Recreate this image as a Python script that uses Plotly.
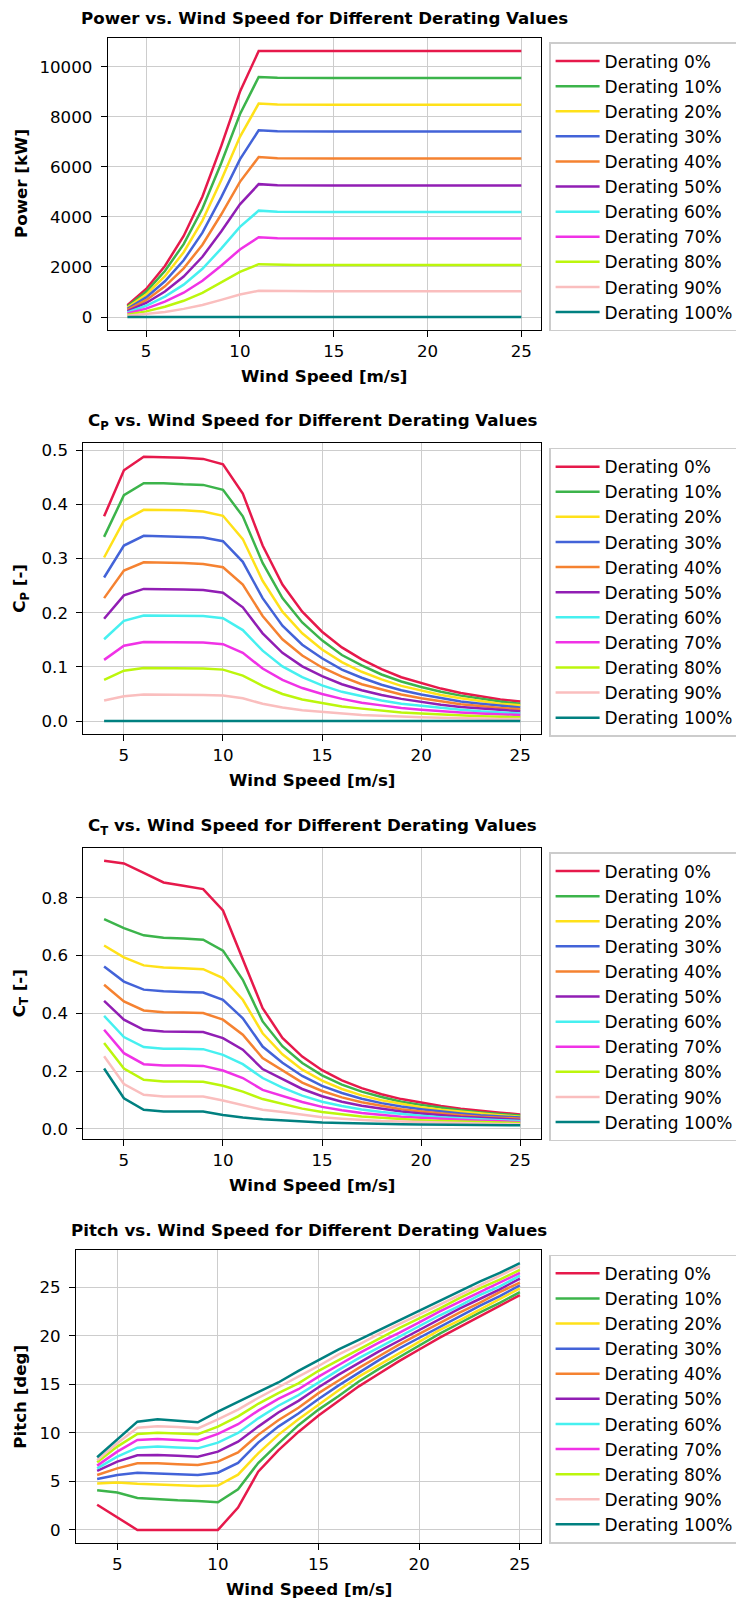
import plotly.graph_objects as go

# ---------------- data ----------------
wind_speed = [4, 5, 6, 7, 8, 9, 10, 11, 12, 13, 14, 15, 16, 17, 18, 19, 20, 21, 22, 23, 24, 25]
derating_labels = ["Derating 0%", "Derating 10%", "Derating 20%", "Derating 30%", "Derating 40%",
                   "Derating 50%", "Derating 60%", "Derating 70%", "Derating 80%", "Derating 90%",
                   "Derating 100%"]
colors = ["#e6194b", "#3cb44b", "#ffe119", "#4363d8", "#f58231", "#911eb4",
          "#46f0f0", "#f032e6", "#bcf60c", "#fabebe", "#008080"]

power_d0 = [468, 1120, 2040, 3236, 4815, 6827, 9000, 10630, 10630, 10630, 10630, 10630, 10630, 10630, 10630, 10630, 10630, 10630, 10630, 10630, 10630, 10630]
power_d10 = [421, 1008, 1836, 2912, 4334, 6144, 8100, 9590, 9560, 9550, 9550, 9550, 9550, 9550, 9550, 9550, 9550, 9550, 9550, 9550, 9550, 9550]
power_d20 = [374, 896, 1632, 2589, 3852, 5462, 7200, 8530, 8490, 8480, 8480, 8480, 8480, 8480, 8480, 8480, 8480, 8480, 8480, 8480, 8480, 8480]
power_d30 = [328, 784, 1428, 2265, 3371, 4779, 6300, 7460, 7420, 7410, 7410, 7410, 7410, 7410, 7410, 7410, 7410, 7410, 7410, 7410, 7410, 7410]
power_d40 = [281, 672, 1224, 1942, 2889, 4096, 5400, 6390, 6340, 6330, 6330, 6330, 6330, 6330, 6330, 6330, 6330, 6330, 6330, 6330, 6330, 6330]
power_d50 = [234, 560, 1020, 1618, 2408, 3414, 4500, 5310, 5270, 5260, 5260, 5260, 5260, 5260, 5260, 5260, 5260, 5260, 5260, 5260, 5260, 5260]
power_d60 = [187, 448, 816, 1294, 1926, 2731, 3600, 4250, 4210, 4200, 4200, 4200, 4200, 4200, 4200, 4200, 4200, 4200, 4200, 4200, 4200, 4200]
power_d70 = [140, 336, 612, 971, 1445, 2048, 2700, 3190, 3150, 3140, 3140, 3140, 3140, 3140, 3140, 3140, 3140, 3140, 3140, 3140, 3140, 3140]
power_d80 = [94, 224, 408, 647, 963, 1365, 1800, 2110, 2085, 2080, 2080, 2080, 2080, 2080, 2080, 2080, 2080, 2080, 2080, 2080, 2080, 2080]
power_d90 = [47, 112, 204, 324, 482, 683, 900, 1050, 1035, 1030, 1030, 1030, 1030, 1030, 1030, 1030, 1030, 1030, 1030, 1030, 1030, 1030]
power_d100 = [0, 0, 0, 0, 0, 0, 0, 0, 0, 0, 0, 0, 0, 0, 0, 0, 0, 0, 0, 0, 0, 0]

cp_d0 = [0.378, 0.463, 0.488, 0.4875, 0.486, 0.484, 0.474, 0.420, 0.324, 0.252, 0.202, 0.165, 0.136, 0.114, 0.096, 0.081, 0.070, 0.060, 0.052, 0.046, 0.040, 0.036]
cp_d10 = [0.340, 0.417, 0.439, 0.439, 0.437, 0.436, 0.427, 0.378, 0.292, 0.227, 0.182, 0.149, 0.122, 0.103, 0.086, 0.073, 0.063, 0.054, 0.047, 0.041, 0.036, 0.032]
cp_d20 = [0.302, 0.370, 0.390, 0.390, 0.389, 0.387, 0.379, 0.336, 0.259, 0.202, 0.162, 0.132, 0.109, 0.091, 0.077, 0.065, 0.056, 0.048, 0.042, 0.037, 0.032, 0.029]
cp_d30 = [0.265, 0.324, 0.342, 0.341, 0.340, 0.339, 0.332, 0.294, 0.227, 0.176, 0.141, 0.116, 0.095, 0.080, 0.067, 0.057, 0.049, 0.042, 0.036, 0.032, 0.028, 0.025]
cp_d40 = [0.227, 0.278, 0.293, 0.293, 0.292, 0.290, 0.284, 0.252, 0.194, 0.151, 0.121, 0.099, 0.082, 0.068, 0.058, 0.049, 0.042, 0.036, 0.031, 0.028, 0.024, 0.022]
cp_d50 = [0.189, 0.232, 0.244, 0.244, 0.243, 0.242, 0.237, 0.210, 0.162, 0.126, 0.101, 0.083, 0.068, 0.057, 0.048, 0.041, 0.035, 0.030, 0.026, 0.023, 0.020, 0.018]
cp_d60 = [0.151, 0.185, 0.195, 0.195, 0.194, 0.194, 0.190, 0.168, 0.130, 0.101, 0.081, 0.066, 0.054, 0.046, 0.038, 0.032, 0.028, 0.024, 0.021, 0.018, 0.016, 0.014]
cp_d70 = [0.113, 0.139, 0.146, 0.146, 0.146, 0.145, 0.142, 0.126, 0.097, 0.076, 0.061, 0.050, 0.041, 0.034, 0.029, 0.024, 0.021, 0.018, 0.016, 0.014, 0.012, 0.011]
cp_d80 = [0.076, 0.093, 0.098, 0.098, 0.097, 0.097, 0.095, 0.084, 0.065, 0.050, 0.040, 0.033, 0.027, 0.023, 0.019, 0.016, 0.014, 0.012, 0.010, 0.009, 0.008, 0.007]
cp_d90 = [0.038, 0.046, 0.049, 0.049, 0.049, 0.048, 0.047, 0.042, 0.032, 0.025, 0.020, 0.017, 0.014, 0.011, 0.010, 0.008, 0.007, 0.006, 0.005, 0.005, 0.004, 0.004]
cp_d100 = [0, 0, 0, 0, 0, 0, 0, 0, 0, 0, 0, 0, 0, 0, 0, 0, 0, 0, 0, 0, 0, 0]

ct_d0 = [0.928, 0.919, 0.886, 0.853, 0.842, 0.830, 0.756, 0.585, 0.418, 0.315, 0.250, 0.203, 0.168, 0.141, 0.120, 0.103, 0.090, 0.079, 0.070, 0.062, 0.056, 0.050]
ct_d10 = [0.726, 0.695, 0.670, 0.662, 0.659, 0.655, 0.617, 0.516, 0.372, 0.286, 0.228, 0.185, 0.153, 0.129, 0.110, 0.094, 0.083, 0.073, 0.064, 0.057, 0.052, 0.046]
ct_d20 = [0.635, 0.594, 0.566, 0.559, 0.556, 0.553, 0.522, 0.447, 0.331, 0.258, 0.205, 0.167, 0.138, 0.116, 0.099, 0.086, 0.075, 0.066, 0.059, 0.052, 0.047, 0.042]
ct_d30 = [0.562, 0.510, 0.482, 0.476, 0.474, 0.472, 0.447, 0.383, 0.285, 0.229, 0.183, 0.149, 0.124, 0.104, 0.089, 0.077, 0.068, 0.060, 0.053, 0.047, 0.043, 0.039]
ct_d40 = [0.499, 0.441, 0.410, 0.404, 0.403, 0.401, 0.378, 0.326, 0.245, 0.201, 0.160, 0.131, 0.109, 0.092, 0.079, 0.068, 0.060, 0.053, 0.047, 0.042, 0.039, 0.035]
ct_d50 = [0.443, 0.378, 0.343, 0.337, 0.336, 0.335, 0.314, 0.274, 0.207, 0.172, 0.138, 0.113, 0.094, 0.080, 0.069, 0.060, 0.053, 0.047, 0.042, 0.038, 0.034, 0.031]
ct_d60 = [0.391, 0.318, 0.283, 0.277, 0.277, 0.276, 0.256, 0.224, 0.176, 0.143, 0.115, 0.094, 0.079, 0.067, 0.058, 0.051, 0.045, 0.040, 0.036, 0.033, 0.030, 0.027]
ct_d70 = [0.343, 0.262, 0.224, 0.219, 0.219, 0.218, 0.202, 0.176, 0.135, 0.115, 0.093, 0.076, 0.064, 0.055, 0.048, 0.042, 0.038, 0.034, 0.030, 0.028, 0.026, 0.023]
ct_d80 = [0.297, 0.209, 0.170, 0.164, 0.164, 0.163, 0.149, 0.129, 0.103, 0.086, 0.070, 0.058, 0.050, 0.043, 0.038, 0.033, 0.030, 0.027, 0.025, 0.023, 0.021, 0.020]
ct_d90 = [0.251, 0.155, 0.118, 0.112, 0.112, 0.112, 0.098, 0.083, 0.066, 0.058, 0.048, 0.040, 0.035, 0.030, 0.027, 0.025, 0.023, 0.021, 0.019, 0.018, 0.017, 0.016]
ct_d100 = [0.209, 0.106, 0.066, 0.060, 0.060, 0.060, 0.048, 0.039, 0.033, 0.029, 0.025, 0.022, 0.020, 0.018, 0.017, 0.016, 0.015, 0.014, 0.0135, 0.013, 0.0125, 0.012]

pitch_d0 = [2.6, 1.3, 0, 0, 0, 0, 0, 2.3, 6.0, 8.2, 10.1, 11.8, 13.3, 14.8, 16.1, 17.4, 18.6, 19.8, 20.9, 22.0, 23.1, 24.2]
pitch_d10 = [4.1, 3.85, 3.3, 3.15, 3.05, 2.98, 2.85, 4.2, 6.9, 8.9, 10.8, 12.4, 13.8, 15.3, 16.6, 17.8, 19.0, 20.2, 21.3, 22.4, 23.4, 24.5]
pitch_d20 = [4.8, 4.9, 4.75, 4.65, 4.58, 4.52, 4.57, 5.7, 7.9, 9.8, 11.4, 12.9, 14.4, 15.8, 17.0, 18.2, 19.4, 20.6, 21.6, 22.7, 23.8, 24.9]
pitch_d30 = [5.25, 5.67, 5.9, 5.84, 5.75, 5.67, 5.9, 6.9, 9.0, 10.65, 12.0, 13.5, 14.9, 16.2, 17.5, 18.7, 19.8, 20.9, 22.0, 23.1, 24.1, 25.2]
pitch_d40 = [5.67, 6.35, 6.87, 6.87, 6.78, 6.7, 7.04, 8.0, 9.8, 11.3, 12.6, 14.1, 15.4, 16.7, 17.9, 19.1, 20.2, 21.3, 22.4, 23.4, 24.5, 25.5]
pitch_d50 = [6.08, 7.04, 7.69, 7.73, 7.64, 7.55, 8.07, 9.1, 10.65, 12.1, 13.3, 14.7, 16.0, 17.2, 18.4, 19.5, 20.6, 21.7, 22.8, 23.8, 24.8, 25.9]
pitch_d60 = [6.35, 7.55, 8.48, 8.59, 8.5, 8.41, 9.0, 10.0, 11.5, 12.8, 13.9, 15.2, 16.5, 17.7, 18.8, 19.9, 21.0, 22.1, 23.1, 24.2, 25.1, 26.2]
pitch_d70 = [6.63, 8.07, 9.27, 9.37, 9.27, 9.17, 9.9, 10.9, 12.3, 13.5, 14.5, 15.8, 17.0, 18.2, 19.3, 20.3, 21.4, 22.5, 23.5, 24.5, 25.5, 26.5]
pitch_d80 = [6.97, 8.59, 9.9, 10.03, 9.95, 9.86, 10.65, 11.7, 13.0, 14.1, 15.1, 16.4, 17.5, 18.6, 19.7, 20.8, 21.8, 22.8, 23.9, 24.9, 25.8, 26.8]
pitch_d90 = [7.2, 8.93, 10.54, 10.7, 10.6, 10.47, 11.4, 12.4, 13.6, 14.7, 15.8, 16.9, 18.1, 19.1, 20.2, 21.2, 22.2, 23.2, 24.2, 25.2, 26.2, 27.2]
pitch_d100 = [7.49, 9.3, 11.16, 11.4, 11.26, 11.1, 12.2, 13.2, 14.15, 15.2, 16.4, 17.5, 18.6, 19.6, 20.6, 21.6, 22.6, 23.6, 24.6, 25.6, 26.5, 27.5]

power_series = [power_d0, power_d10, power_d20, power_d30, power_d40, power_d50, power_d60, power_d70, power_d80, power_d90, power_d100]
cp_series = [cp_d0, cp_d10, cp_d20, cp_d30, cp_d40, cp_d50, cp_d60, cp_d70, cp_d80, cp_d90, cp_d100]
ct_series = [ct_d0, ct_d10, ct_d20, ct_d30, ct_d40, ct_d50, ct_d60, ct_d70, ct_d80, ct_d90, ct_d100]
pitch_series = [pitch_d0, pitch_d10, pitch_d20, pitch_d30, pitch_d40, pitch_d50, pitch_d60, pitch_d70, pitch_d80, pitch_d90, pitch_d100]

x_ticks = [5, 10, 15, 20, 25]

# ---------------- layout constants (pixels) ----------------
W, H = 736, 1603
FONT = "DejaVu Sans"
FS = 16.67

panels = [
    dict(series=power_series, left=107.7, top=37.7, bottom=330.3, yrange=[-531.5, 11161.5],
         yticks=[0, 2000, 4000, 6000, 8000, 10000], fmt="d",
         title="<b>Power vs. Wind Speed for Different Derating Values</b>",
         ylabel="<b>Power [kW]</b>"),
    dict(series=cp_series, left=83.3, top=443.3, bottom=734.3, yrange=[-0.0244, 0.5128],
         yticks=[0.0, 0.1, 0.2, 0.3, 0.4, 0.5], fmt=".1f",
         title="<b>C<sub>P</sub> vs. Wind Speed for Different Derating Values</b>",
         ylabel="<b>C<sub>P</sub> [-]</b>"),
    dict(series=ct_series, left=83.3, top=847.7, bottom=1139.0, yrange=[-0.0352, 0.9735],
         yticks=[0.0, 0.2, 0.4, 0.6, 0.8], fmt=".1f",
         title="<b>C<sub>T</sub> vs. Wind Speed for Different Derating Values</b>",
         ylabel="<b>C<sub>T</sub> [-]</b>"),
    dict(series=pitch_series, left=76.0, top=1250.0, bottom=1543.3, yrange=[-1.375, 28.85],
         yticks=[0, 5, 10, 15, 20, 25], fmt="d",
         title="<b>Pitch vs. Wind Speed for Different Derating Values</b>",
         ylabel="<b>Pitch [deg]</b>"),
]
RIGHT = 541.0

fig = go.Figure()
annotations = []
layout = dict(width=W, height=H, margin=dict(l=0, r=0, t=0, b=0, autoexpand=False),
              paper_bgcolor="white", plot_bgcolor="white",
              font=dict(family=FONT, size=FS, color="black"), showlegend=True)

for i, p in enumerate(panels):
    n = "" if i == 0 else str(i + 1)
    xa, ya = "x" + n, "y" + n
    lg = "legend" + n
    for lab, col, ys in zip(derating_labels, colors, p["series"]):
        fig.add_trace(go.Scatter(x=wind_speed, y=ys, mode="lines", name=lab,
                                 line=dict(color=col, width=2.5),
                                 xaxis=xa, yaxis=ya, legend=lg))
    xd = [p["left"] / W, RIGHT / W]
    yd = [1 - p["bottom"] / H, 1 - p["top"] / H]
    common = dict(ticks="outside", ticklen=5.8, tickwidth=1.33, tickcolor="black",
                  showline=True, linecolor="black", linewidth=1.33, mirror=True,
                  showgrid=True, gridcolor="#cdcdcd", gridwidth=1.3, zeroline=False,
                  tickfont=dict(family=FONT, size=FS, color="black"))
    layout["xaxis" + n] = dict(domain=xd, range=[2.95, 26.05], anchor=ya,
                               tickmode="array", tickvals=x_ticks, **common)
    layout["yaxis" + n] = dict(domain=yd, range=p["yrange"], anchor=xa, ticklabelstandoff=5,
                               tickmode="array", tickvals=p["yticks"], tickformat=p["fmt"], **common)
    layout[lg] = dict(x=(RIGHT + 8.3) / W, y=1 - (p["top"] + 4.5) / H, xanchor="left", yanchor="top",
                      xref="paper", yref="paper", bgcolor="rgba(255,255,255,0.8)",
                      bordercolor="#cccccc", borderwidth=1.3, itemwidth=44,
                      font=dict(family=FONT, size=17, color="black"), tracegroupgap=0)
    cx = (p["left"] + RIGHT) / 2 / W
    annotations.append(dict(text=p["title"], x=cx, y=1 - (p["top"] - 8) / H, xref="paper", yref="paper",
                            xanchor="center", yanchor="bottom", showarrow=False,
                            font=dict(family=FONT, size=FS, color="black")))
    annotations.append(dict(text="<b>Wind Speed [m/s]</b>", x=cx, y=1 - (p["bottom"] + 46.0) / H,
                            xref="paper", yref="paper", xanchor="center", yanchor="middle",
                            showarrow=False, font=dict(family=FONT, size=FS, color="black")))
    annotations.append(dict(text=p["ylabel"], x=21 / W, y=1 - (p["top"] + p["bottom"]) / 2 / H,
                            xref="paper", yref="paper", xanchor="center", yanchor="middle",
                            textangle=-90, showarrow=False,
                            font=dict(family=FONT, size=FS, color="black")))

layout["annotations"] = annotations
fig.update_layout(**layout)
fig.write_html("out.html", config={"displayModeBar": False},
               post_script="document.body.style.margin='0';document.body.style.padding='0';")
